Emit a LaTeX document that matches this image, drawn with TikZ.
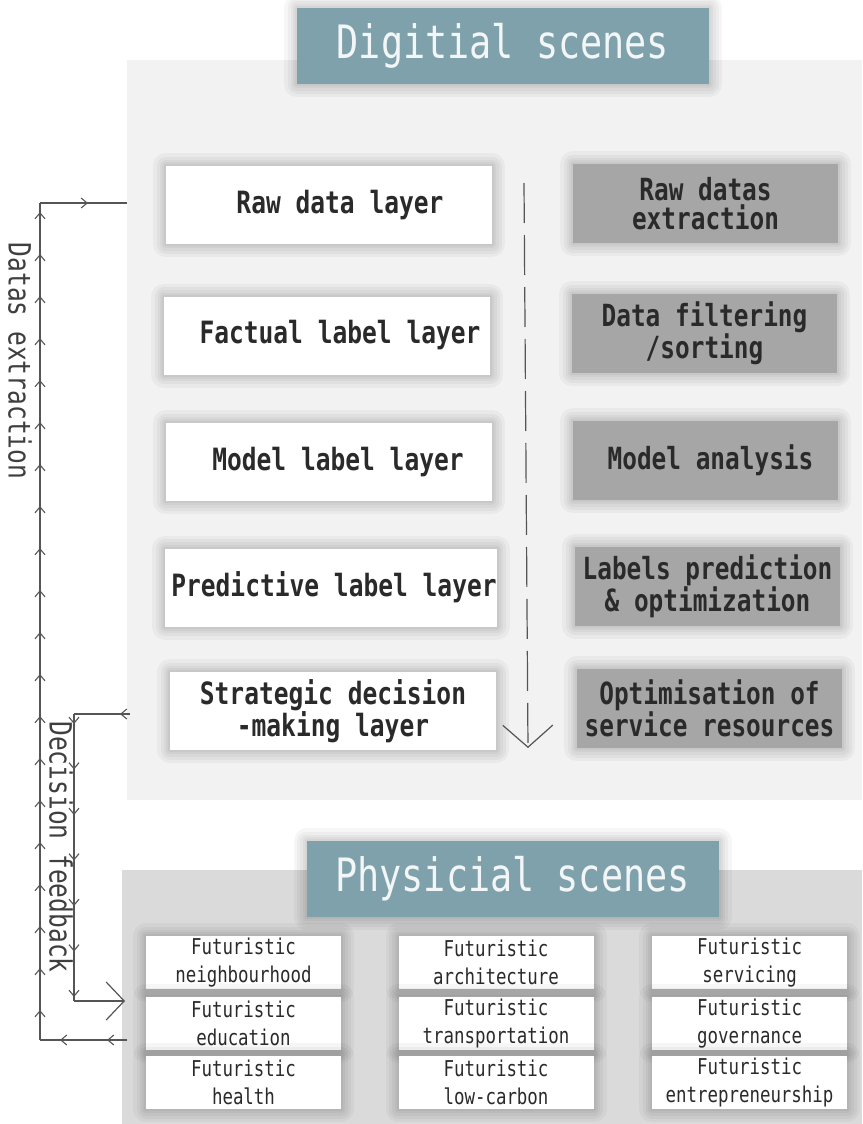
\documentclass[tikz,border=0pt]{standalone}
\usepackage{fontspec}
\newfontfamily\monof[FakeStretch=0.8]{DejaVu Sans Mono}
\usetikzlibrary{arrows.meta,decorations.markings}
\definecolor{titlecol}{HTML}{7FA1AB}
\definecolor{titletext}{HTML}{F2F6F7}
\definecolor{rightcol}{HTML}{A6A6A6}
\definecolor{textdark}{HTML}{2A2A2A}
\definecolor{linecol}{HTML}{555555}
\definecolor{digibg}{HTML}{F2F2F2}
\definecolor{physbg}{HTML}{DADADA}
\tikzset{
  smallhead/.tip={Straight Barb[length=6pt,width=10pt,line width=1.1pt]},
  glowring/.style={preaction={draw=black,draw opacity=0.035,line width=#1,line join=round}},
  softshadow/.style={glowring=26pt,glowring=19pt,glowring=13pt,glowring=8pt,glowring=4pt},
  titlebox/.style={fill=titlecol,minimum width=412pt,minimum height=76pt,inner sep=0pt,text=titletext,font=\monof\fontsize{46}{50}\selectfont,softshadow},
  layerbox/.style={fill=white,minimum width=326pt,minimum height=78pt,inner sep=0pt,align=center,text=textdark,font=\monof\bfseries\fontsize{30.7}{28}\selectfont,softshadow},
  opbox/.style={fill=rightcol,minimum width=265pt,minimum height=79pt,inner sep=0pt,align=center,text=textdark,font=\monof\bfseries\fontsize{30.5}{29}\selectfont,softshadow},
  scenebox/.style={fill=white,minimum width=195pt,minimum height=53pt,inner sep=0pt,align=center,text=textdark,font=\monof\fontsize{21.8}{28}\selectfont,softshadow},
  sidelabel/.style={rotate=-90,text=textdark!90,font=\monof\fontsize{30.7}{32}\selectfont},
  conn/.style={draw=linecol,line width=1.2pt},
  headsalong/.style n args={3}{postaction={decorate,decoration={markings,
      mark=between positions #1 and #2 step #3 with {\arrow{smallhead}}}}},
  headat/.style={postaction={decorate,decoration={markings,
      mark=at position #1 with {\arrow{smallhead}}}}},
}
\begin{document}
\begin{tikzpicture}[x=1pt,y=-1pt]
\useasboundingbox (0,0) rectangle (862,1124);
% backgrounds
\node[fill=digibg,minimum width=735pt,minimum height=740pt,inner sep=0pt] (digital) at (494.5,430) {};
\node[fill=physbg,minimum width=740pt,minimum height=254pt,inner sep=0pt] (physical) at (492,997) {};
% titles
\node[titlebox] (digtitle) at (503,46) {Digitial scenes};
\node[titlebox] (phystitle) at (512.5,879) {Physicial scenes};
% layers
\node[layerbox] (l1) at (329,205) {\hspace*{22pt}Raw data layer};
\node[layerbox] (l2) at (327,335.5) {\hspace*{26pt}Factual label layer};
\node[layerbox] (l3) at (329,462) {\hspace*{18pt}Model label layer};
\node[layerbox] (l4) at (331,587.5) {\hspace*{6pt}Predictive label layer};
\node[layerbox] (l5) at (333,711) {Strategic decision\\-making layer};
% operations
\node[opbox] (o1) at (705.5,203.5) {Raw datas\\extraction};
\node[opbox] (o2) at (704.5,333.5) {Data filtering\\/sorting};
\node[opbox] (o3) at (705.5,460.5) {\hspace*{10pt}Model analysis};
\node[opbox] (o4) at (707.5,586) {Labels prediction\\\& optimization};
\node[opbox] (o5) at (709.5,708.5) {Optimisation of\\service resources};
% flow arrow
\coordinate (flowtop) at (524,183);
\coordinate (flowbot) at (528,748);
\draw[conn,dash pattern=on 40pt off 12pt,-{Straight Barb[length=22pt,width=50pt,line width=1.2pt]}] (flowtop) -- (flowbot);
% physical scenes
\node[scenebox] (s11) at (243.5,962.5) {Futuristic\\neighbourhood};
\node[scenebox] (s12) at (243.5,1023.5) {Futuristic\\education};
\node[scenebox] (s13) at (243.5,1082.5) {Futuristic\\health};
\node[scenebox] (s21) at (496,962.5) {Futuristic\\architecture};
\node[scenebox] (s22) at (496,1023.5) {Futuristic\\transportation};
\node[scenebox] (s23) at (496,1082.5) {Futuristic\\low-carbon};
\node[scenebox] (s31) at (749.5,962.5) {Futuristic\\servicing};
\node[scenebox] (s32) at (749.5,1023.5) {Futuristic\\governance};
\node[scenebox] (s33) at (749.5,1082.5) {Futuristic\\entrepreneurship};
% datas extraction loop
\coordinate (exStart) at (127,1040);
\coordinate (exBL) at (40,1040);
\coordinate (exTL) at (40,203);
\coordinate (exEnd) at (127,203);
\draw[conn,postaction={decorate,decoration={markings,
   mark=at position 20pt with {\arrow{smallhead}},
   mark=at position 67pt with {\arrow{smallhead}}}}] (exStart) -- (exBL);
\draw[conn,headsalong={30pt}{830pt}{42pt}] (exBL) -- (exTL);
\draw[conn,headat=48pt] (exTL) -- (exEnd);
% decision feedback loop
\coordinate (dfStart) at (130,714);
\coordinate (dfTL) at (74,714);
\coordinate (dfBL) at (74,1001);
\coordinate (dfEnd) at (125,1001);
\draw[conn,headat=10pt] (dfStart) -- (dfTL);
\draw[conn,headsalong={10pt}{285pt}{45.5pt}] (dfTL) -- (dfBL);
\draw[conn,-{Straight Barb[length=18pt,width=38pt,line width=1.2pt]}] (dfBL) -- (dfEnd);
% side labels
\node[sidelabel] (exlabel) at (20,361) {Datas extraction};
\node[sidelabel] (dflabel) at (61,847) {Decision feedback};
\end{tikzpicture}
\end{document}
